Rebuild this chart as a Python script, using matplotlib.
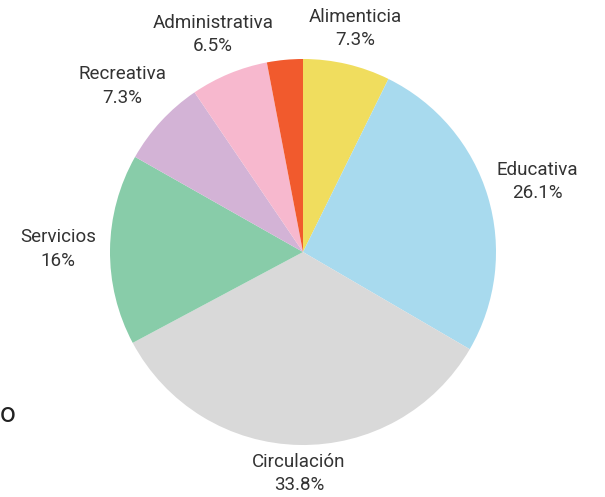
import matplotlib
matplotlib.use("Agg")
import matplotlib.pyplot as plt
import numpy as np

plt.rcParams['font.family'] = ['Roboto', 'DejaVu Sans']

categories = ["Alimenticia", "Educativa", "Circulación", "Servicios",
              "Recreativa", "Administrativa", ""]
values = [7.3, 26.1, 33.8, 16.0, 7.3, 6.5, 3.0]
pct_labels = ["7.3%", "26.1%", "33.8%", "16%", "7.3%", "6.5%", ""]
colors = ["#F0DD5E", "#A8DAEE", "#D9D9D9", "#88CCA9",
          "#D3B3D6", "#F7B8CE", "#F15A2D"]

W, H = 605, 497
R = 193.0            # pie radius in pixels
cx, cy = 303, 245    # pie centre in pixels (from bottom-left)

fig = plt.figure(figsize=(W / 100, H / 100), dpi=100)
ax = fig.add_axes([0, 0, 1, 1])

wedges, _ = ax.pie(values, colors=colors, startangle=90, counterclock=False,
                   radius=1.0, wedgeprops=dict(linewidth=0))

ax.set_aspect("auto")
ax.set_xlim(-cx / R, (W - cx) / R)
ax.set_ylim(-cy / R, (H - cy) / R)
ax.axis("off")

for w, name, pct in zip(wedges, categories, pct_labels):
    if not name:
        continue
    ang = np.deg2rad((w.theta1 + w.theta2) / 2)
    c, s = np.cos(ang), np.sin(ang)
    # labels sit further out on the sides than at top/bottom
    d = min(1.145 + 0.2 * abs(c), 1.27)
    ax.text(d * c, d * s, f"{name}\n{pct}", ha="center", va="center",
            fontsize=13.5, color="#333333", linespacing=1.38)

ax.text(0.0, (H - 415) / H, "o", transform=fig.transFigure,
        ha="left", va="center", fontsize=20, color="#222222")

fig.savefig("out.png", dpi=100)
